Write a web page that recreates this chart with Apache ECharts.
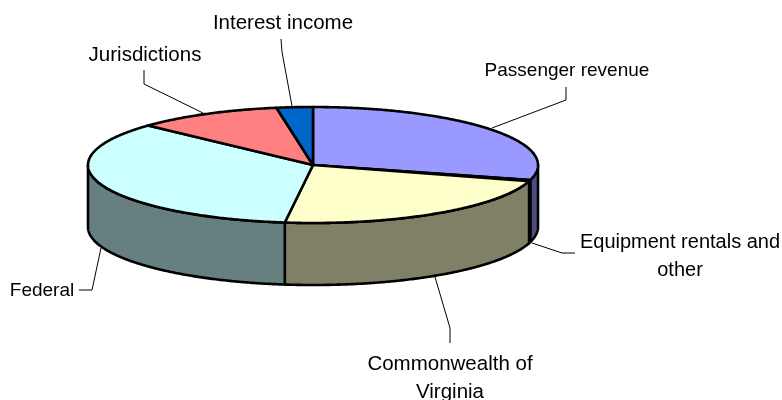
<!DOCTYPE html>
<html>
<head>
<meta charset="utf-8">
<style>
  html, body { margin: 0; padding: 0; background: #fff; }
  #chart { width: 782px; height: 400px; }
</style>
<script src="https://cdn.jsdelivr.net/npm/echarts@6/dist/echarts.min.js"></script>
</head>
<body>
<div id="chart"></div>
<script>
// slices, clockwise from 12 o'clock (percent)
var categories = ["Passenger revenue", "Equipment rentals and\nother", "Commonwealth of\nVirginia", "Federal", "Jurisdictions", "Interest income"];
var shares = [29.2, 0.3, 22.5, 34.9, 10.5, 2.6];
var topColors = ["#9999FF", "#660066", "#FFFFCC", "#CCFFFF", "#FF8080", "#0066CC"];
var sideColors = ["#4D4D80", "#330033", "#808066", "#668080", "#804040", "#003366"];

// pie geometry
var cx = 313, cy = 165, rx = 225, ry = 58, depth = 62;
var total = shares.reduce(function (a, b) { return a + b; }, 0);

// start and end angle of a slice in degrees
function sliceAngles(i) {
  var before = 0;
  for (var k = 0; k < i; k++) before += shares[k];
  return [before / total * 360, (before + shares[i]) / total * 360];
}

function rim(deg, dy) {
  var t = deg * Math.PI / 180;
  return [cx + rx * Math.sin(t), cy - ry * Math.cos(t) + dy];
}

function arcPoints(a, b, dy) {
  var pts = [];
  var n = Math.max(2, Math.ceil((b - a) * 2));
  for (var i = 0; i <= n; i++) pts.push(rim(a + (b - a) * i / n, dy));
  return pts;
}

function renderTop(params, api) {
  var ang = sliceAngles(params.dataIndex);
  var pts = [[cx, cy]].concat(arcPoints(ang[0], ang[1], 0));
  return {
    type: "polygon",
    shape: { points: pts },
    style: { fill: topColors[params.dataIndex], stroke: "#000", lineWidth: 2.6, lineJoin: "round" }
  };
}

function renderSide(params, api) {
  var ang = sliceAngles(params.dataIndex);
  // only the front half of the rim can be seen
  var a = Math.max(ang[0], 90), b = Math.min(ang[1], 270);
  if (b <= a) return null;
  var pts = arcPoints(a, b, 0).concat(arcPoints(a, b, depth).reverse());
  return {
    type: "polygon",
    shape: { points: pts },
    style: { fill: sideColors[params.dataIndex], stroke: "#000", lineWidth: 2.6, lineJoin: "round" }
  };
}

// leader lines and labels, same order as categories
var leaders = [
  [[566, 87], [566, 100], [492, 128]],
  [[575, 253], [562, 253], [532, 243]],
  [[450, 343], [450, 328], [435, 277]],
  [[79, 290], [92, 290], [101, 248]],
  [[144, 70], [144, 84], [203, 113]],
  [[281, 39], [282, 52], [292, 106]]
];
var labelPos = [[567, 71], [680, 256], [450, 378], [42, 291], [145, 55], [283, 23]];
var labelSize = [19, 20, 20.5, 19, 20.5, 20.5];

var graphics = [];
categories.forEach(function (name, i) {
  graphics.push({
    type: "polyline",
    shape: { points: leaders[i] },
    style: { stroke: "#000", lineWidth: 1, fill: null },
    z: 5
  });
  graphics.push({
    type: "text",
    x: labelPos[i][0],
    y: labelPos[i][1],
    style: {
      text: name,
      fill: "#000",
      font: labelSize[i] + 'px "Liberation Sans", Arial, sans-serif',
      lineHeight: 28,
      align: "center",
      verticalAlign: "middle"
    },
    z: 6
  });
});

var myChart = echarts.init(document.getElementById("chart"), null, { renderer: "canvas" });
myChart.setOption({
  animation: false,
  backgroundColor: "#fff",
  graphic: graphics,
  series: [
    { type: "custom", coordinateSystem: "none", data: shares, renderItem: renderSide, silent: true, z: 1 },
    { type: "custom", coordinateSystem: "none", data: shares, renderItem: renderTop, silent: true, z: 2 }
  ]
});

window.addEventListener("resize", myChart.resize);
</script>
</body>
</html>
